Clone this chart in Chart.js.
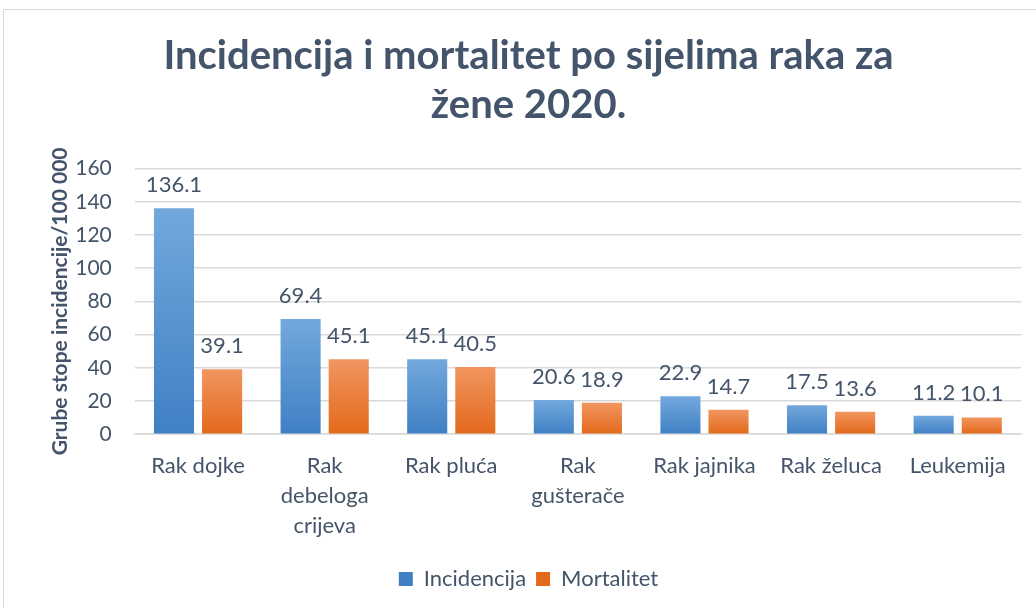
<!DOCTYPE html>
<html>
<head>
<meta charset="utf-8">
<script src="https://cdn.jsdelivr.net/npm/chart.js@4"></script>
<style>
  html, body { margin: 0; padding: 0; background: #fff; }
  #frame { position: absolute; left: 3px; top: 9px; width: 1040px; height: 610px; border: 1px solid #d9d9d9; box-sizing: border-box; }
  #wrap { position: absolute; left: 0; top: 0; width: 1036px; height: 608px; }
</style>
</head>
<body>
<div id="frame"></div>
<div id="wrap"><canvas id="chart"></canvas></div>
<script>
// data
const categories = [
    'Rak dojke',
    ['Rak', 'debeloga', 'crijeva'],
    'Rak pluća',
    ['Rak', 'gušterače'],
    'Rak jajnika',
    'Rak želuca',
    'Leukemija'
];
const incidencija = [136.1, 69.4, 45.1, 20.6, 22.9, 17.5, 11.2];
const mortalitet = [39.1, 45.1, 40.5, 18.9, 14.7, 13.6, 10.1];
const yTicks = [0, 20, 40, 60, 80, 100, 120, 140, 160];

const textColor = '#44546a';
const fontName = 'Lato';

// vertical gradient per bar, light at top, dark at bottom
function barGradient(topColor, bottomColor) {
    return function (ctx) {
        const chart = ctx.chart;
        const y = chart.scales && chart.scales.y;
        if (!y || ctx.parsed === undefined || !chart.chartArea) {
            return bottomColor;
        }
        const top = y.getPixelForValue(ctx.parsed.y);
        const bottom = y.getPixelForValue(0);
        if (!isFinite(top) || !isFinite(bottom) || top === bottom) {
            return bottomColor;
        }
        const g = chart.ctx.createLinearGradient(0, top, 0, bottom);
        g.addColorStop(0, topColor);
        g.addColorStop(1, bottomColor);
        return g;
    };
}

// value labels above each bar
const valueLabels = {
    id: 'valueLabels',
    afterDatasetsDraw(chart) {
        const c = chart.ctx;
        c.save();
        c.fillStyle = textColor;
        c.font = '22px ' + fontName;
        c.textAlign = 'center';
        c.textBaseline = 'alphabetic';
        chart.data.datasets.forEach((ds, i) => {
            chart.getDatasetMeta(i).data.forEach((bar, j) => {
                c.fillText(ds.data[j].toFixed(1), bar.x, bar.y - 16);
            });
        });
        c.restore();
    }
};

const ctx = document.getElementById('chart').getContext('2d');
new Chart(ctx, {
    type: 'bar',
    data: {
        labels: categories,
        datasets: [{
            label: 'Incidencija',
            data: incidencija,
            backgroundColor: barGradient('#73a8dd', '#3f80c4'),
            categoryPercentage: 0.76,
            barPercentage: 0.833
        }, {
            label: 'Mortalitet',
            data: mortalitet,
            backgroundColor: barGradient('#f29560', '#e2691a'),
            categoryPercentage: 0.76,
            barPercentage: 0.833
        }]
    },
    options: {
        responsive: true,
        maintainAspectRatio: false,
        animation: false,
        layout: { padding: { left: 36, right: 15, top: 32, bottom: 8 } },
        plugins: {
            title: {
                display: true,
                text: ['Incidencija i mortalitet po sijelima raka za', 'žene 2020.'],
                color: textColor,
                font: { family: fontName, size: 40, weight: 'bold', lineHeight: 1.22 },
                padding: { top: 0, bottom: 39 }
            },
            legend: {
                position: 'bottom',
                labels: {
                    color: textColor,
                    font: { family: fontName, size: 22 },
                    boxWidth: 14,
                    boxHeight: 14,
                    padding: 10
                }
            },
            tooltip: { enabled: false }
        },
        scales: {
            x: {
                grid: { display: false, drawTicks: false },
                border: { display: true, color: '#d9d9d9', width: 1.5 },
                ticks: {
                    color: textColor,
                    font: { family: fontName, size: 22, lineHeight: 1.36 },
                    padding: 17,
                    maxRotation: 0,
                    autoSkip: false
                }
            },
            y: {
                min: 0,
                max: 160,
                afterBuildTicks(axis) {
                    axis.ticks = yTicks.map(v => ({ value: v }));
                },
                grid: { color: '#d9d9d9', lineWidth: 1.5, drawTicks: false },
                border: { display: false },
                ticks: {
                    color: textColor,
                    font: { family: fontName, size: 21 },
                    padding: 23
                },
                title: {
                    display: true,
                    text: 'Grube stope incidencije/100 000',
                    color: textColor,
                    font: { family: fontName, size: 21, weight: 'bold' },
                    padding: { top: 12, bottom: -21 }
                }
            }
        }
    },
    plugins: [valueLabels]
});
</script>
</body>
</html>
